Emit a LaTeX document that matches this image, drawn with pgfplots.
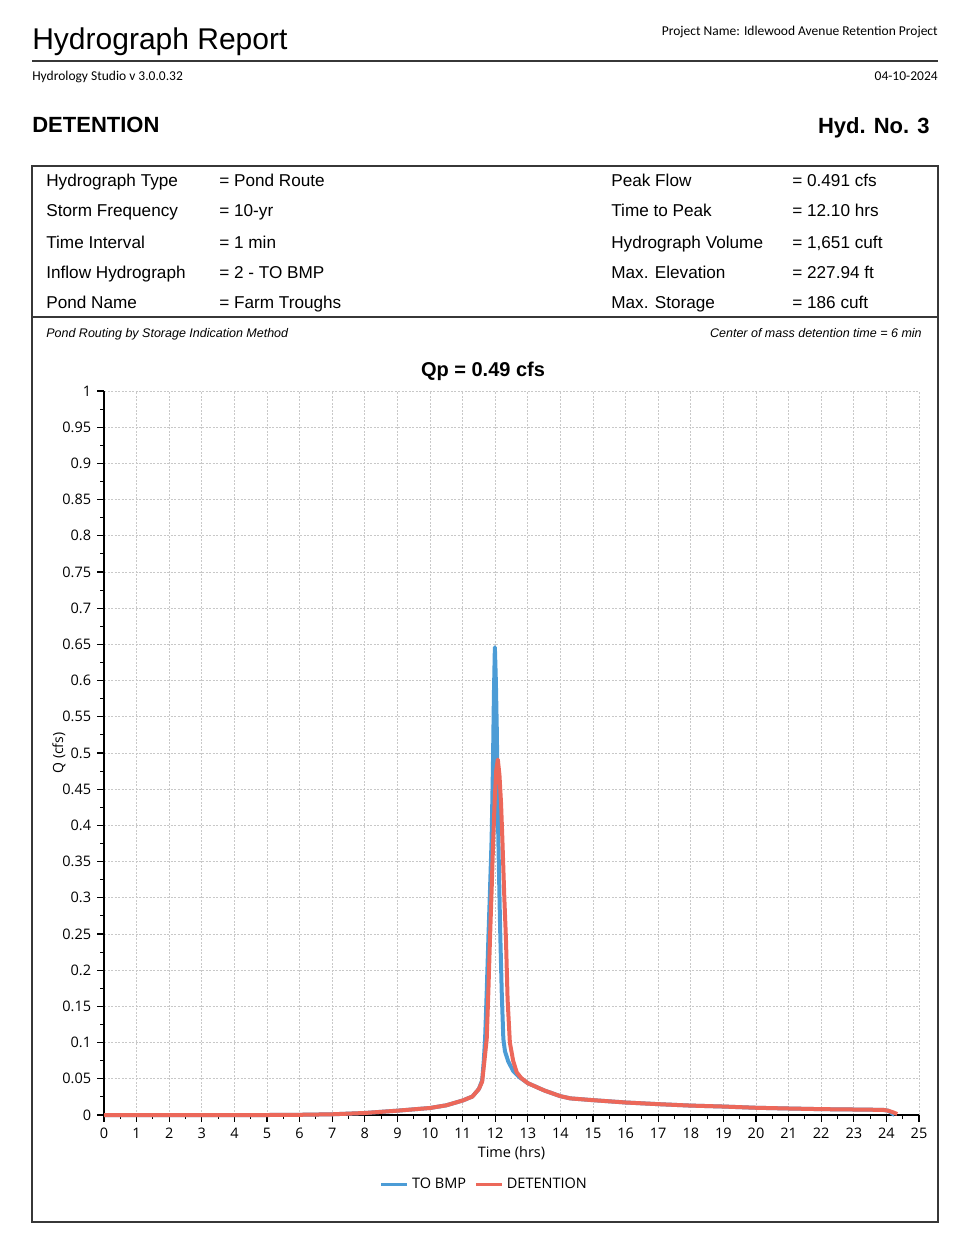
\documentclass[border=0pt]{standalone}
\usepackage{fontspec}
\setmainfont{Liberation Sans}
\newfontfamily\osfont{Open Sans}
\newfontfamily\cbfont{Carlito}
\usepackage{pgfplots}
\pgfplotsset{compat=1.18}
\definecolor{bmpblue}{RGB}{76,156,214}
\definecolor{detred}{RGB}{236,104,90}
\definecolor{gridgray}{RGB}{200,200,200}
\definecolor{framec}{RGB}{55,55,55}
\newcommand\fs[1]{\fontsize{#1pt}{#1pt}\selectfont}
\begin{document}
\begin{tikzpicture}[x=0.6pt,y=-0.6pt]
\path[use as bounding box] (0,0) rectangle (968,1242);
\node[anchor=base west,inner sep=0] at (32,50) {\fs{18}Hydrograph Report};
\node[anchor=base east,inner sep=0] at (938,36) {\cbfont\fs{8.1}Project Name: Idlewood Avenue Retention Project};
\draw[framec,line width=1.2pt] (32,61) -- (938,61);
\node[anchor=base west,inner sep=0] at (32,81) {\cbfont\fs{8.1}Hydrology Studio v 3.0.0.32};
\node[anchor=base east,inner sep=0] at (938,81) {\cbfont\fs{8.1}04-10-2024};
\node[anchor=base west,inner sep=0] at (32,133) {\fs{13.2}\bfseries DETENTION};
\node[anchor=base east,inner sep=0] at (930,134) {\fs{13.2}\bfseries Hyd. No. 3};
\draw[framec,line width=0.9pt] (32,166) rectangle (938,1222);
\draw[framec,line width=0.9pt] (32,317) -- (938,317);
\foreach \y/\a/\b/\c/\d in {187/Hydrograph Type/= Pond Route/Peak Flow/= 0.491 cfs,
  217/Storm Frequency/= 10-yr/Time to Peak/= 12.10 hrs,
  248/Time Interval/= 1 min/Hydrograph Volume/{= 1,651 cuft},
  278/Inflow Hydrograph/= 2 - TO BMP/Max. Elevation/= 227.94 ft,
  308/Pond Name/= Farm Troughs/Max. Storage/= 186 cuft}{
  \node[anchor=base west,inner sep=0] at (46,\y) {\fs{10.3}\a};
  \node[anchor=base west,inner sep=0] at (219,\y) {\fs{10.3}\b};
  \node[anchor=base west,inner sep=0] at (611,\y) {\fs{10.3}\c};
  \node[anchor=base west,inner sep=0] at (792,\y) {\fs{10.3}\d};
}
\node[anchor=base west,inner sep=0] at (46,337) {\fs{7.5}\itshape Pond Routing by Storage Indication Method};
\node[anchor=base east,inner sep=0] at (922,337) {\fs{7.5}\itshape Center of mass detention time = 6 min};
\node[anchor=base,inner sep=0] at (483,376) {\fs{12}\bfseries Qp = 0.49 cfs};
\coordinate (O) at (104,1115);
\begin{axis}[at={(O)}, anchor=south west, scale only axis,
  width=489pt, height=434.4pt,
  xmin=0, xmax=25, ymin=0, ymax=1,
  axis x line=bottom, axis y line=left,
  axis line style={-, black, line width=0.8pt},
  tick align=outside,
  major tick length=4.2pt, minor tick length=2.4pt,
  tick style={black, line width=0.7pt},
  xtick={0,1,...,25}, minor x tick num=1,
  ytick={0,0.05,0.1,0.15,0.2,0.25,0.3,0.35,0.4,0.45,0.5,0.55,0.6,0.65,0.7,0.75,0.8,0.85,0.9,0.95,1},
  minor y tick num=1,
  yticklabel style={/pgf/number format/fixed, /pgf/number format/precision=2},
  every tick label/.append style={font=\osfont\fs{8.7}},
  /pgf/number format/assume math mode=true,
  xmajorgrids, ymajorgrids,
  major grid style={gridgray, line width=0.5pt, dash pattern=on 1.2pt off 0.9pt},
  xlabel={Time (hrs)}, ylabel={Q (cfs)},
  xlabel style={at={(axis description cs:0.5,-0.0525)}, anchor=center, font=\osfont\fs{8.7}},
  ylabel style={at={(axis description cs:-0.0552,0.5)}, anchor=center, font=\osfont\fs{8.4}},
  clip=false,
  legend style={at={(0.4675,-0.0953)}, anchor=center, draw=none, fill=none,
    legend columns=2, font=\osfont\fs{8.7},
    /tikz/every even column/.append style={column sep=3pt}},
  legend image code/.code={\draw[#1,line width=1.8pt] (0pt,0pt) -- (15.6pt,0pt);},
]
\addplot[bmpblue, line width=2.4pt, line join=round] table {
t q
0 0
5 0
6 0.0003
7 0.001
8 0.0028
9 0.006
10 0.0097
10.5 0.0134
11 0.02
11.3 0.0255
11.5 0.036
11.6 0.048
11.65 0.075
11.69 0.105
11.74 0.17
11.79 0.243
11.84 0.31
11.89 0.381
11.93 0.48
11.96 0.58
11.99 0.646
12.02 0.60
12.05 0.53
12.08 0.42
12.11 0.35
12.15 0.26
12.2 0.17
12.25 0.105
12.3 0.088
12.4 0.074
12.55 0.061
12.75 0.052
13.0 0.044
13.5 0.034
14 0.026
14.3 0.023
15 0.0205
16 0.0173
17 0.015
18 0.013
19 0.0117
20 0.010
21 0.009
22 0.0081
23 0.0076
23.9 0.0071
24.05 0.006
24.15 0.003
24.25 0
};
\addlegendentry{TO BMP}
\addplot[detred, line width=2.4pt, line join=round] table {
t q
0 0
5 0
6 0.0003
7 0.001
8 0.0028
9 0.006
10 0.0097
10.5 0.0134
11 0.02
11.3 0.0255
11.5 0.036
11.6 0.046
11.67 0.075
11.74 0.105
11.79 0.17
11.84 0.243
11.89 0.31
11.94 0.381
11.99 0.44
12.03 0.475
12.08 0.491
12.13 0.47
12.18 0.43
12.22 0.381
12.28 0.30
12.33 0.243
12.38 0.16
12.45 0.10
12.55 0.075
12.66 0.059
12.8 0.051
13.0 0.044
13.5 0.034
14 0.026
14.3 0.023
15 0.0205
16 0.0173
17 0.015
18 0.013
19 0.0117
20 0.010
21 0.009
22 0.0081
23 0.0076
23.9 0.0071
24.05 0.006
24.2 0.0038
24.33 0.0014
};
\addlegendentry{DETENTION}
\end{axis}
\end{tikzpicture}
\end{document}
